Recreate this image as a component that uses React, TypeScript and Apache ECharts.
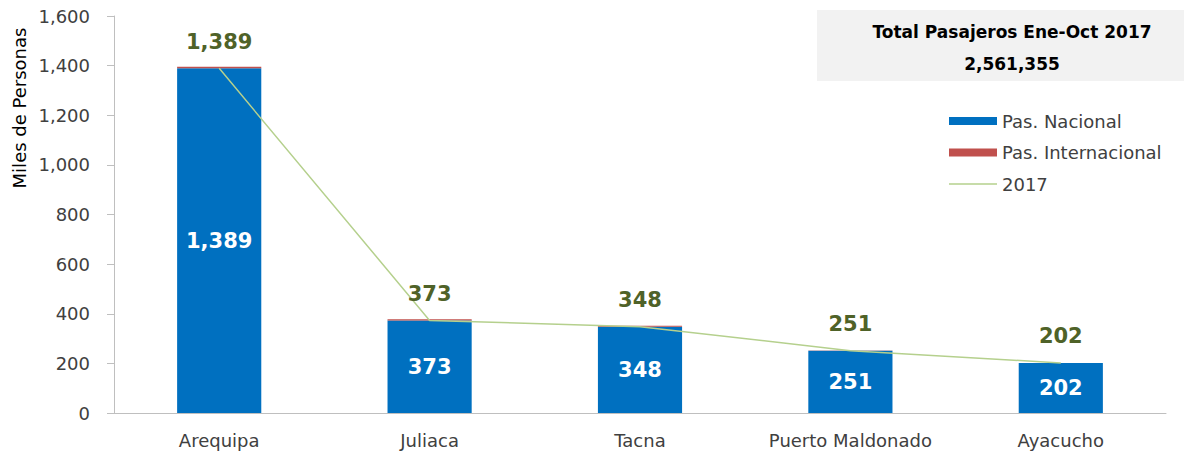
import React, { useEffect, useRef } from "react";
import * as echarts from "echarts";

const categories = ["Arequipa", "Juliaca", "Tacna", "Puerto Maldonado", "Ayacucho"];
const nacional = [1389, 373, 348, 251, 202];
const internacional = [6, 5, 4, 1, 0];
const total2017 = [1389, 373, 348, 251, 202];
const yTicks = { min: 0, max: 1600, interval: 200 };
const boxTitle = "Total Pasajeros Ene-Oct 2017";
const boxValue = "2,561,355";
const yName = "Miles de Personas";

const FONT = "'DejaVu Sans', sans-serif";
const fmt = (v: number) => v.toLocaleString("en-US");

export default function App() {
  const ref = useRef<HTMLDivElement>(null);
  useEffect(() => {
    if (!ref.current) return;
    const chart = echarts.init(ref.current, null, { renderer: "svg" });
    chart.setOption({
      animation: false,
      textStyle: { fontFamily: FONT },
      grid: { left: 114, top: 16, width: 1052, height: 397, containLabel: false },
      legend: {
        orient: "vertical",
        left: 944,
        top: 107,
        itemWidth: 48,
        itemHeight: 8,
        itemGap: 13.5,
        textStyle: { fontSize: 18, color: "#404040", fontFamily: FONT },
        data: [
          { name: "Pas. Nacional", icon: "rect" },
          { name: "Pas. Internacional", icon: "rect" },
          { name: "2017", icon: "path://M0,0L48,0L48,1.5L0,1.5Z" },
        ],
      },
      graphic: [
        {
          type: "rect",
          shape: { x: 817, y: 10, width: 367, height: 71 },
          style: { fill: "#F2F2F2" },
          z: 0,
        },
        {
          type: "text",
          x: 1012,
          y: 32,
          style: {
            text: boxTitle,
            font: `bold 17px ${FONT}`,
            fill: "#000",
            align: "center",
            verticalAlign: "middle",
          },
        },
        {
          type: "text",
          x: 1012,
          y: 64,
          style: {
            text: boxValue,
            font: `bold 17px ${FONT}`,
            fill: "#000",
            align: "center",
            verticalAlign: "middle",
          },
        },
        {
          type: "text",
          x: 19,
          y: 108,
          rotation: Math.PI / 2,
          style: {
            text: yName,
            font: `18px ${FONT}`,
            fill: "#000",
            align: "center",
            verticalAlign: "middle",
          },
        },
      ],
      xAxis: {
        type: "category",
        data: categories,
        axisLine: { lineStyle: { color: "#BFBFBF" } },
        axisTick: { show: false },
        axisLabel: { fontSize: 18, color: "#404040", margin: 18, interval: 0 },
      },
      yAxis: {
        type: "value",
        min: yTicks.min,
        max: yTicks.max,
        interval: yTicks.interval,
        splitLine: { show: false },
        axisLine: { show: true, lineStyle: { color: "#BFBFBF" } },
        axisTick: { show: true, length: 7, lineStyle: { color: "#BFBFBF" } },
        axisLabel: {
          fontSize: 18,
          color: "#404040",
          margin: 24,
          formatter: (v: number) => fmt(v),
        },
      },
      series: [
        {
          name: "Pas. Nacional",
          type: "bar",
          stack: "a",
          barWidth: "40%",
          data: nacional,
          itemStyle: { color: "#0070C0" },
          label: {
            show: true,
            position: "inside",
            color: "#fff",
            fontSize: 21,
            fontWeight: "bold",
            formatter: (p: any) => fmt(p.value),
          },
        },
        {
          name: "Pas. Internacional",
          type: "bar",
          stack: "a",
          barWidth: "40%",
          data: internacional,
          itemStyle: { color: "#C0504D" },
        },
        {
          name: "2017",
          type: "line",
          data: total2017,
          symbol: "none",
          lineStyle: { color: "#B5D08D", width: 1.5 },
          itemStyle: { color: "#B5D08D" },
          z: 5,
        },
        {
          name: "2017 labels",
          type: "scatter",
          data: total2017,
          symbolSize: 0,
          itemStyle: { color: "transparent", opacity: 1 },
          label: {
            show: true,
            position: "top",
            distance: 16,
            color: "#4F6228",
            fontSize: 21,
            fontWeight: "bold",
            formatter: (p: any) => fmt(p.value),
          },
          z: 6,
        },
      ],
    });
    return () => chart.dispose();
  }, []);
  return (
    <div
      ref={ref}
      style={{ position: "fixed", left: 0, top: 0, width: 1184, height: 451, background: "#fff" }}
    />
  );
}
